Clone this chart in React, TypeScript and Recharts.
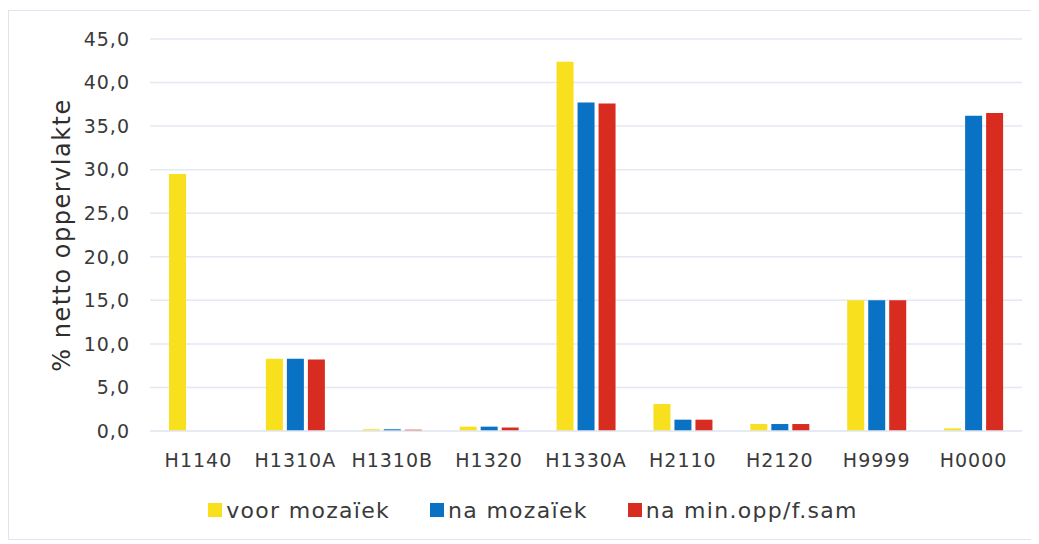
import { BarChart, Bar, XAxis, YAxis, CartesianGrid, Legend } from "recharts";

const categories = ["H1140", "H1310A", "H1310B", "H1320", "H1330A", "H2110", "H2120", "H9999", "H0000"];
const voorMozaiek = [29.5, 8.3, 0.2, 0.5, 42.4, 3.1, 0.8, 15.0, 0.3];
const naMozaiek = [0, 8.3, 0.2, 0.5, 37.7, 1.3, 0.8, 15.0, 36.2];
const naMinOpp = [0, 8.2, 0.15, 0.4, 37.6, 1.3, 0.8, 15.0, 36.5];
const yTicks = [0, 5, 10, 15, 20, 25, 30, 35, 40, 45];

const series = [
  { key: "voor", name: "voor mozaïek", color: "#f8e01e" },
  { key: "na", name: "na mozaïek", color: "#0a72c4" },
  { key: "min", name: "na min.opp/f.sam", color: "#d92c20" },
];

const data = categories.map((c, i) => ({
  cat: c,
  voor: voorMozaiek[i],
  na: naMozaiek[i],
  min: naMinOpp[i],
}));

const FONT = "'DejaVu Sans', Verdana, sans-serif";
const GRID = "#e3e8f2";

const LegendBox = () => (
  <div
    style={{
      display: "flex",
      justifyContent: "center",
      alignItems: "center",
      height: 50,
      gap: 40,
      paddingLeft: 26,
      fontFamily: FONT,
      fontSize: 22,
      letterSpacing: 1.3,
      color: "#3a3a3a",
    }}
  >
    {series.map((s) => (
      <div key={s.key} style={{ display: "flex", alignItems: "center", gap: 4 }}>
        <div style={{ width: 14, height: 14, background: s.color }} />
        <span>{s.name}</span>
      </div>
    ))}
  </div>
);

const YLabel = ({ viewBox }: any) => {
  const cx = 53;
  const cy = viewBox.y + viewBox.height / 2;
  return (
    <text
      x={cx}
      y={cy}
      transform={`rotate(-90 ${cx} ${cy})`}
      textAnchor="middle"
      dominantBaseline="central"
      fill="#2e2e2e"
      style={{ fontFamily: FONT, fontSize: 24, letterSpacing: 1.5 }}
    >
      % netto oppervlakte
    </text>
  );
};

export default function App() {
  const tickStyle = { fontFamily: FONT, fontSize: 19, letterSpacing: 1, fill: "#3a3a3a" };
  return (
    <div style={{ paddingTop: 2 }}>
      <div
        style={{
          width: 1022,
          height: 528,
          border: "1px solid #dfe5f0",
          background: "#fff",
        }}
      >
        <BarChart
          width={1022}
          height={528}
          data={data}
          margin={{ top: 28, right: 9, bottom: 4, left: 0 }}
          barSize={17}
          barGap={4}
        >
          <CartesianGrid vertical={false} stroke={GRID} strokeWidth={1.5} />
          <XAxis
            dataKey="cat"
            height={54}
            tickLine={false}
            axisLine={{ stroke: GRID, strokeWidth: 1.5 }}
            tickSize={6}
            tickMargin={17}
            tick={tickStyle}
            interval={0}
          />
          <YAxis
            width={141}
            domain={[0, 45]}
            ticks={yTicks}
            tickFormatter={(v: number) => v.toFixed(1).replace(".", ",")}
            tickLine={false}
            axisLine={false}
            tickSize={6}
            tickMargin={14}
            tick={tickStyle}
            label={<YLabel />}
          />
          <Legend
            verticalAlign="bottom"
            height={50}
            wrapperStyle={{ left: 0, width: 1022 }}
            content={<LegendBox />}
          />
          {series.map((s) => (
            <Bar key={s.key} dataKey={s.key} name={s.name} fill={s.color} isAnimationActive={false} />
          ))}
        </BarChart>
      </div>
    </div>
  );
}
